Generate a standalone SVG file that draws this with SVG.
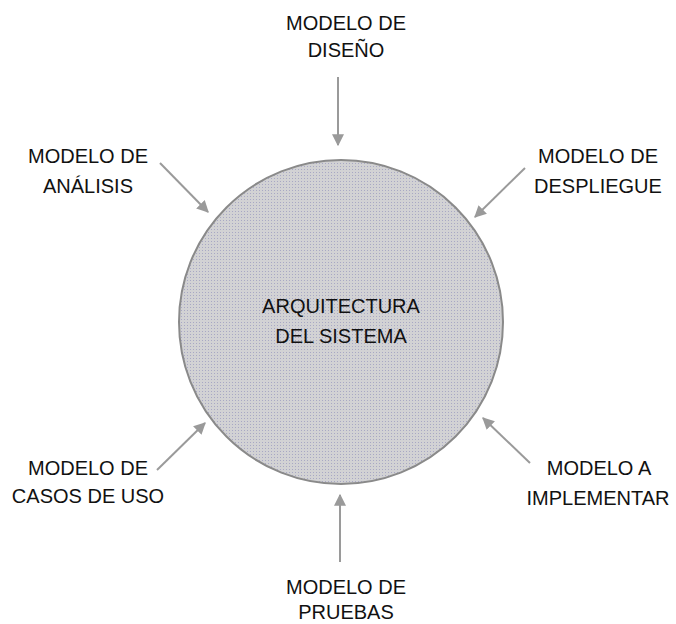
<svg xmlns="http://www.w3.org/2000/svg" width="676" height="624" viewBox="0 0 676 624">
  <style>
    .lbl { font-family: "Liberation Sans", Arial, sans-serif; font-size: 20px; fill: #111111; text-anchor: middle; }
    .conn { stroke: #9a9a9a; stroke-width: 2; fill: none; marker-end: url(#ah); }
  </style>
  <defs>
    <marker id="ah" viewBox="0 0 10 10" refX="9" refY="5" markerWidth="6" markerHeight="6" markerUnits="strokeWidth" orient="auto">
      <path d="M0,0 L10,5 L0,10 Z" fill="#9a9a9a"/>
    </marker>
    <pattern id="dots" width="3" height="3" patternUnits="userSpaceOnUse">
      <rect width="3" height="3" fill="#d2d2d4"/>
      <rect x="1" y="1" width="1" height="1" fill="#a8a8c4"/>
    </pattern>
  </defs>
  <rect width="676" height="624" fill="#ffffff"/>
  <g id="center">
    <circle cx="341" cy="322" r="162" fill="url(#dots)" stroke="#8a8a8a" stroke-width="2"/>
    <text class="lbl" x="341" y="313">ARQUITECTURA</text>
    <text class="lbl" x="341" y="343">DEL SISTEMA</text>
  </g>
  <g id="diseno">
    <text class="lbl" x="346" y="30">MODELO DE</text>
    <text class="lbl" x="346" y="57">DISEÑO</text>
  </g>
  <g id="analisis">
    <text class="lbl" x="88" y="163">MODELO DE</text>
    <text class="lbl" x="88" y="193">ANÁLISIS</text>
  </g>
  <g id="despliegue">
    <text class="lbl" x="598" y="163">MODELO DE</text>
    <text class="lbl" x="598" y="193">DESPLIEGUE</text>
  </g>
  <g id="casos">
    <text class="lbl" x="88" y="475">MODELO DE</text>
    <text class="lbl" x="88" y="503">CASOS DE USO</text>
  </g>
  <g id="implementar">
    <text class="lbl" x="599" y="475">MODELO A</text>
    <text class="lbl" x="598" y="505">IMPLEMENTAR</text>
  </g>
  <g id="pruebas">
    <text class="lbl" x="346" y="594">MODELO DE</text>
    <text class="lbl" x="346" y="619">PRUEBAS</text>
  </g>
  <g id="connectors">
    <line class="conn" x1="338" y1="77" x2="338" y2="145"/>
    <line class="conn" x1="160" y1="163" x2="208" y2="212"/>
    <line class="conn" x1="525" y1="168" x2="475" y2="217"/>
    <line class="conn" x1="157" y1="470" x2="205" y2="423"/>
    <line class="conn" x1="530" y1="463" x2="483" y2="418"/>
    <line class="conn" x1="340" y1="562" x2="340" y2="495"/>
  </g>
</svg>
